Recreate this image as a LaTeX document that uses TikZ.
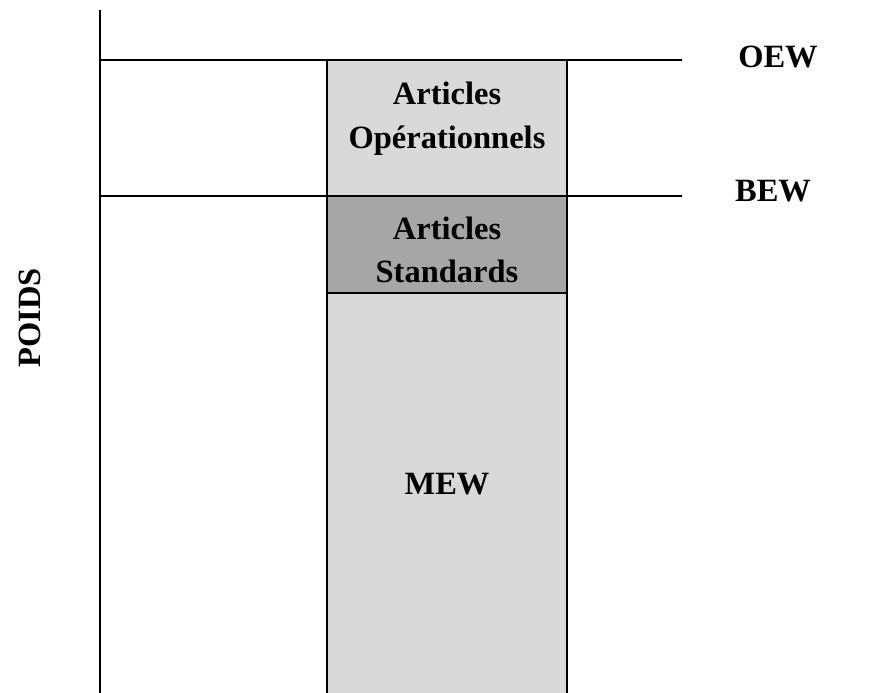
\documentclass[tikz,border=0pt]{standalone}
\usepackage{fontspec}
\setmainfont{Liberation Serif}
\definecolor{lightbox}{HTML}{D9D9D9}
\definecolor{darkbox}{HTML}{A6A6A6}
\tikzset{
  lbl/.style={font=\fontsize{32.5}{38}\selectfont\bfseries, inner sep=0pt, anchor=base},
  rule/.style={line width=2pt, black},
  boxed/.style={line width=2pt, draw=black},
}
\begin{document}
\begin{tikzpicture}[x=1pt,y=-1pt]
\useasboundingbox (0,0) rectangle (887,693);
% column boxes
\draw[boxed, fill=lightbox] (327,293) rectangle (567,700);
\draw[boxed, fill=lightbox] (327,60) rectangle (567,196);
\draw[boxed, fill=darkbox] (327,196) rectangle (567,293);
% axis and level lines
\coordinate (axtop) at (100,10);
\coordinate (axbot) at (100,700);
\draw[rule] (axtop) -- (axbot);
\coordinate (oewL) at (100,60);
\coordinate (oewR) at (682,60);
\coordinate (bewL) at (100,196);
\coordinate (bewR) at (682,196);
\draw[rule] (oewL) -- (oewR);
\draw[rule] (bewL) -- (bewR);
% texts
\node[lbl] (a1) at (447,105) {Articles};
\node[lbl] (o1) at (447,148) {Opérationnels};
\node[lbl] (a2) at (447,239) {Articles};
\node[lbl] (s2) at (447,282) {Standards};
\node[lbl] (mew) at (447,494) {MEW};
\node[lbl] (oew) at (778,68) {OEW};
\node[lbl] (bew) at (773,201) {BEW};
\node[lbl, rotate=90] (poids) at (41,318) {POIDS};
\end{tikzpicture}
\end{document}
